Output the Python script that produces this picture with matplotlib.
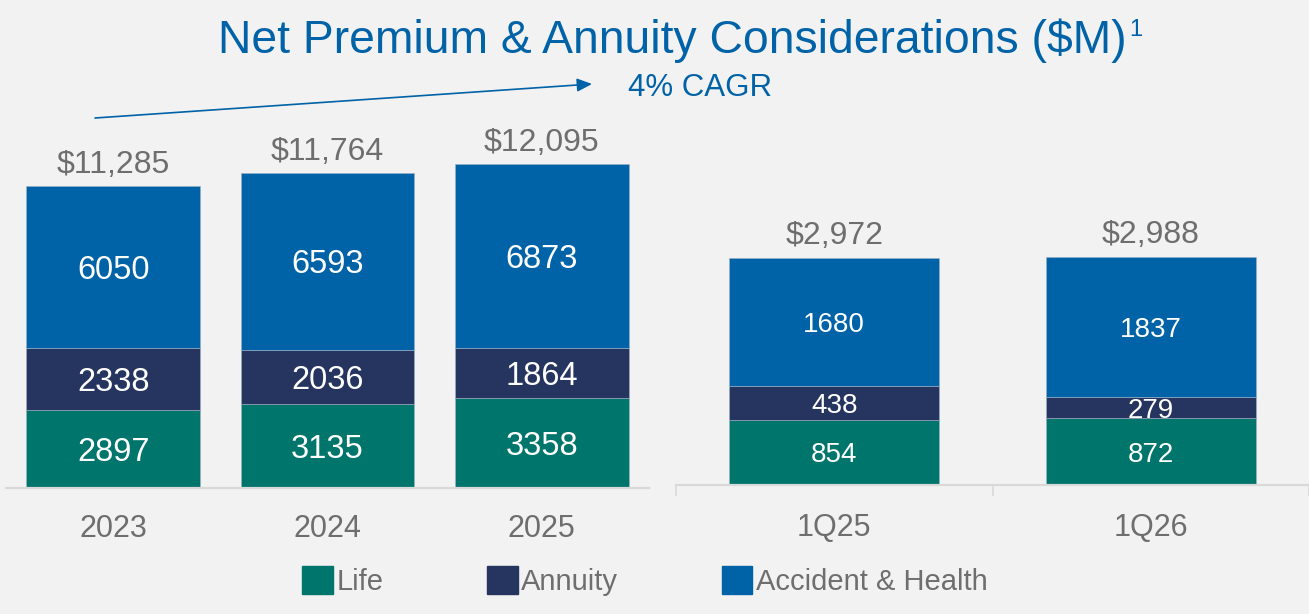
import matplotlib.pyplot as plt
from matplotlib.patches import FancyArrowPatch

plt.rcParams['font.family'] = ['Liberation Sans', 'DejaVu Sans']

# data
years = ['2023', '2024', '2025']
life_y = [2897, 3135, 3358]
annuity_y = [2338, 2036, 1864]
ah_y = [6050, 6593, 6873]
totals_y = [11285, 11764, 12095]

quarters = ['1Q25', '1Q26']
life_q = [854, 872]
annuity_q = [438, 279]
ah_q = [1680, 1837]
totals_q = [2972, 2988]

series = ['Life', 'Annuity', 'Accident & Health']
colors = ['#00756B', '#26355F', '#0062A7']
bg = '#F2F2F2'
grey = '#6E6E6E'
blue = '#0062A7'

W, H = 1309, 614
fig = plt.figure(figsize=(W / 100, H / 100), dpi=100, facecolor=bg)

def fx(px):
    return px / W

def fy(py):
    return 1 - py / H

def stacked(ax, cats, parts, totals, width, fs):
    x = list(range(len(cats)))
    bottom = [0] * len(cats)
    for vals, c in zip(parts, colors):
        ax.bar(x, vals, width, bottom=bottom, color=c, edgecolor='#9FB3C8', linewidth=0.4)
        for i, v in enumerate(vals):
            ax.text(i, bottom[i] + v / 2, str(v), ha='center', va='center_baseline',
                    color='white', fontsize=fs)
        bottom = [b + v for b, v in zip(bottom, vals)]
    for i, t in enumerate(totals):
        ax.annotate('${:,}'.format(t), (i, t), xytext=(0, 18), textcoords='offset points',
                    ha='center', va='center_baseline', color=grey, fontsize=23)
    ax.set_facecolor(bg)
    for s in ['top', 'left', 'right']:
        ax.spines[s].set_visible(False)
    ax.spines['bottom'].set_color('#D9D9D9')
    ax.spines['bottom'].set_linewidth(1.6)
    ax.set_yticks([])
    ax.set_xticks(x)
    ax.set_xticklabels(cats, color=grey, fontsize=22)
    ax.tick_params(axis='x', length=0, pad=19)

# left panel (annual)
ax1 = fig.add_axes([fx(6), fy(488), fx(649 - 6), (488 - 100) / H])
stacked(ax1, years, [life_y, annuity_y, ah_y], totals_y, 0.81, 23.5)
ax1.set_xlim(-0.5, 2.5)
ax1.set_ylim(0, 388 / 0.02676)

# right panel (quarterly)
ax2 = fig.add_axes([fx(676), fy(485), fx(W - 676), (485 - 100) / H])
stacked(ax2, quarters, [life_q, annuity_q, ah_q], totals_q, 0.664, 20)
ax2.set_xlim(-0.5, 1.469)
ax2.set_ylim(0, 385 / 0.07638)
ax2.set_xticks([-0.5, 0.5, 1.5], minor=True)
ax2.tick_params(axis='x', which='minor', length=8, width=1.2, color='#D9D9D9')
ax2.tick_params(axis='x', which='major', pad=20)

# title
fig.text(fx(1127), fy(53), 'Net Premium & Annuity Considerations ($M)', ha='right',
         va='baseline', color=blue, fontsize=33.3)
fig.text(fx(1129), fy(36), '1', ha='left', va='baseline', color=blue, fontsize=17)

# CAGR arrow
arr = FancyArrowPatch((fx(95), fy(118)), (fx(592), fy(84)), transform=fig.transFigure,
                      arrowstyle='-|>,head_length=9,head_width=4', color=blue, lw=1.2,
                      shrinkA=0, shrinkB=0)
fig.add_artist(arr)
fig.text(fx(628), fy(88), '4% CAGR', ha='left', va='center', color=blue, fontsize=22.5)

# legend
handles = [plt.Rectangle((0, 0), 1, 1, color=c) for c in colors]
fig.legend(handles, series, loc='center', bbox_to_anchor=(fx(645), fy(581)), ncol=3,
           frameon=False, fontsize=21, labelcolor=grey, handlelength=1.05,
           handleheight=1.1, handletextpad=0.12, columnspacing=3.55)

fig.savefig('out.png', dpi=100, facecolor=bg)
